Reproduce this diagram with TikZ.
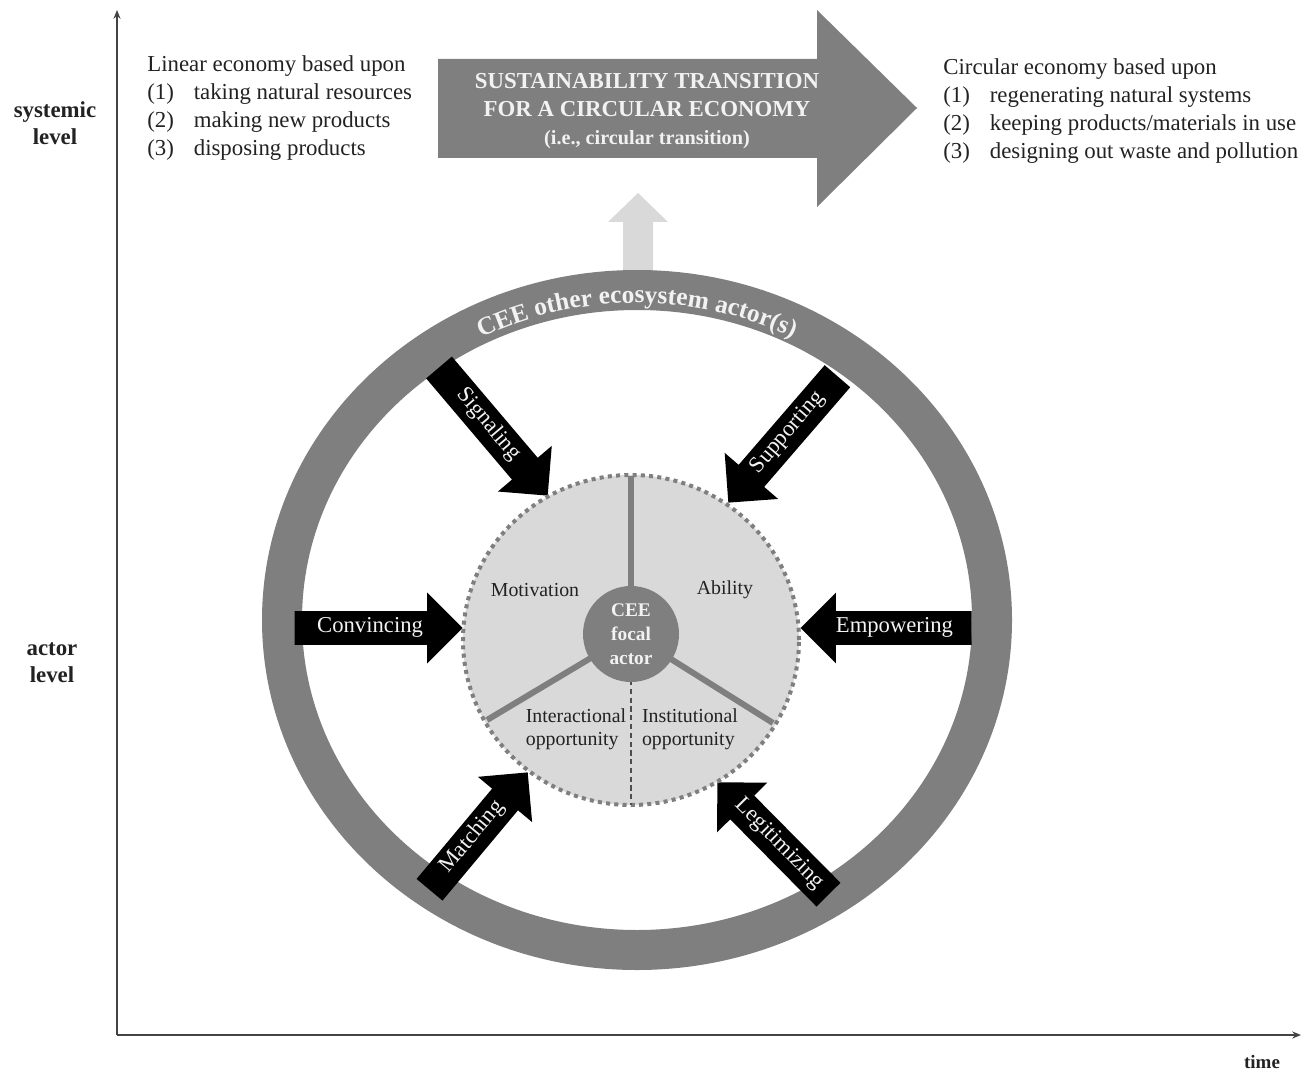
\documentclass[tikz,border=0pt]{standalone}
\usepackage{fontspec}
\setmainfont{Liberation Serif}
\usetikzlibrary{arrows.meta,shapes.arrows,decorations.text}
\definecolor{xamdam}{HTML}{7F7F7F}
\definecolor{xamnhat}{HTML}{D9D9D9}
\definecolor{chutrang}{HTML}{F2F2F2}
\definecolor{chuden}{HTML}{222222}
\newcommand\vongfont{\fontsize{14.5}{17}\selectfont\bfseries}
\newcommand\stt[1]{\makebox[0.93cm][l]{#1}}
\tikzset{
	muiten/.style={single arrow, fill=black, text=chutrang, anchor=tip,
		font=\fontsize{12.9}{14}\selectfont, text height=0.72em, text depth=0.22em,
		inner ysep=4.7pt, inner xsep=0pt, single arrow head extend=10.5pt},
	nhan/.style={text=chuden, inner sep=0pt, font=\fontsize{11.3}{13}\selectfont},
	danhsach/.style={text=chuden, inner sep=0pt, anchor=base west, font=\fontsize{13}{15.8}\selectfont},
	truc/.style={text=chuden, inner sep=0pt, align=center, font=\bfseries\fontsize{13}{15.4}\selectfont}
}
\begin{document}
\begin{tikzpicture}[x=0.02cm,y=0.02cm,line join=round]
	%==Phần thông số có thể tùy chỉnh
	\def\px{0.02cm}
	%==============
	\useasboundingbox (0,0) rectangle (1307,-1074);
	\draw[chuden!85, line width=1.6*\px, -{Stealth[length=5pt,width=4pt]}] (117,-1035)coordinate(O)--(117,-10)coordinate(Y);
	\draw[chuden!85, line width=1.6*\px, -{Stealth[length=5pt,width=4pt]}] (O)--(1301,-1035)coordinate(X);
	\node[truc] (systemic) at (55,-123) {systemic\\level};
	\node[truc] (actorlv) at (52,-663) {actor\\level};
	\node[truc, font=\bfseries\fontsize{10.8}{13}\selectfont] (time) at (1262,-1062) {time};
	%==Mũi tên lớn
	\fill[xamdam] (438,-59)coordinate(A)--(817,-59)coordinate(B)--(817,-10)coordinate(C)--(917,-108)coordinate(D)
	--(817,-207)coordinate(E)--(817,-158)coordinate(F)--(438,-158)coordinate(G)--cycle;
	\node[text=chutrang, align=center, inner sep=0pt, font=\bfseries\fontsize{13}{16}\selectfont] (transition) at (647,-111)
	{SUSTAINABILITY TRANSITION\\FOR A CIRCULAR ECONOMY\\{\fontsize{11.5}{16}\selectfont (i.e., circular transition)}};
	\node[danhsach] (linear) at (147,-72) {\begin{tabular}[t]{@{}l@{}}
		Linear economy based upon\\ \stt{(1)}taking natural resources\\ \stt{(2)}making new products\\ \stt{(3)}disposing products\end{tabular}};
	\node[danhsach] (circular) at (943,-75) {\begin{tabular}[t]{@{}l@{}}
		Circular economy based upon\\ \stt{(1)}regenerating natural systems\\ \stt{(2)}keeping products/materials in use\\ \stt{(3)}designing out waste and pollution\end{tabular}};
	%==Mũi tên nhạt
	\fill[xamnhat] (623,-300)--(623,-222)--(608,-222)--(638,-193)coordinate(T)--(668,-222)--(653,-222)--(653,-300)--cycle;
	%==Vòng ngoài
	\draw[xamdam, line width=40*\px] (637,-620)coordinate(V) ellipse[x radius=355, y radius=330];
	\path[decorate, decoration={text along path, text align=center, text color=chutrang,
		text={|\vongfont|CEE other ecosystem actor(s)}}] (295,-620) arc[start angle=180, end angle=0, x radius=342, y radius=317];
	%==Các mũi tên đen
	\node[muiten, minimum height=168*\px] (convincing) at (463,-628) {Convincing};
	\node[muiten, shape border rotate=180, minimum height=171*\px] (empowering) at (800,-628) {Empowering};
	\node[muiten, rotate=-49.7, minimum height=168*\px] (signaling) at (548,-496) {Signaling};
	\node[muiten, rotate=49.2, shape border rotate=180, minimum height=167*\px] (supporting) at (728,-503) {Supporting};
	\node[muiten, rotate=50.1, minimum height=153*\px] (matching) at (528,-772) {Matching};
	\node[muiten, rotate=-45.3, shape border rotate=180, minimum height=158*\px] (legitimizing) at (717,-782) {Legitimizing};
	%==Vòng trong
	\draw[xamdam, fill=xamnhat, line width=4*\px, dash pattern=on 2.3pt off 2.4pt] (631,-640)coordinate(I) ellipse[x radius=168, y radius=165];
	\draw[xamdam, line width=6*\px] (631,-634)coordinate(M)--(631,-476)coordinate(S1);
	\draw[xamdam, line width=6*\px] (M)--(487,-720)coordinate(S2);
	\draw[xamdam, line width=6*\px] (M)--(773,-723)coordinate(S3);
	\draw[chuden!80, line width=1.2*\px, dash pattern=on 3pt off 2pt] (631,-680)--(631,-805)coordinate(S4);
	\node[circle, fill=xamdam, minimum size=96*\px, inner sep=0pt, text=chutrang, align=center,
	font=\bfseries\fontsize{11}{13.8}\selectfont] (focal) at (M) {CEE\\focal\\actor};
	\node[nhan] (motivation) at (535,-590) {Motivation};
	\node[nhan] (ability) at (725,-590) {Ability};
	\node[nhan, align=left] (interactional) at (576,-729) {Interactional\\opportunity};
	\node[nhan, align=left] (institutional) at (690,-729) {Institutional\\opportunity};
\end{tikzpicture}
\end{document}
